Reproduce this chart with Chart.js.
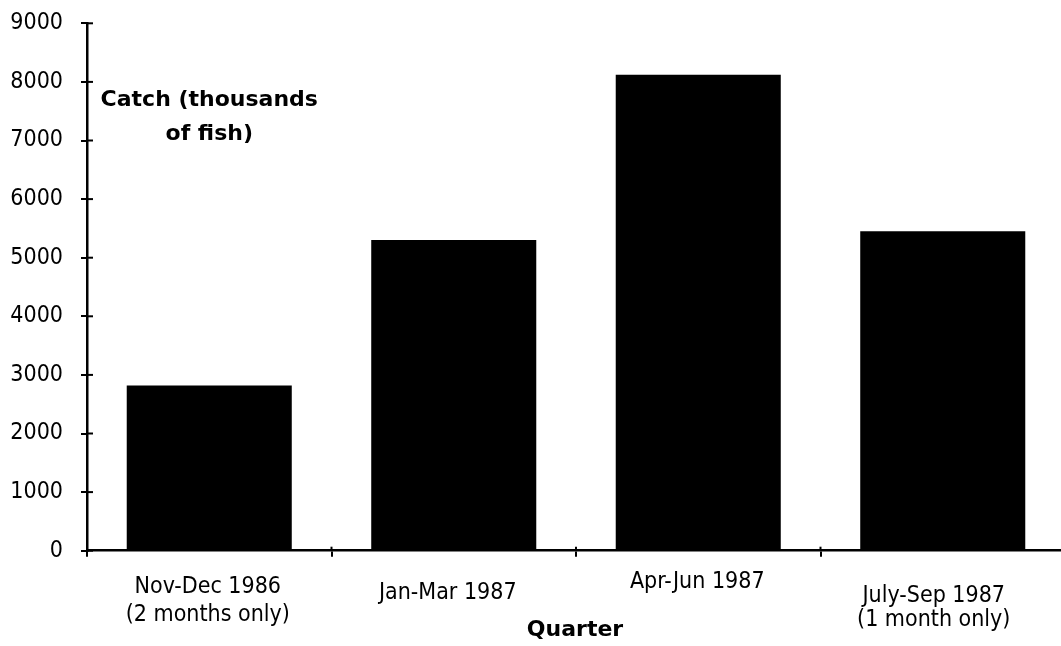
<!DOCTYPE html>
<html>
<head>
<meta charset="utf-8">
<script src="https://cdn.jsdelivr.net/npm/chart.js@4/dist/chart.umd.min.js"></script>
<style>
  html, body { margin: 0; padding: 0; background: #fff; overflow: hidden; }
  canvas { display: block; }
</style>
</head>
<body>
<canvas id="c" width="1070" height="646"></canvas>
<script>
// ---- data ----
const categories = [
  ["Nov-Dec 1986", "(2 months only)"],
  ["Jan-Mar 1987"],
  ["Apr-Jun 1987"],
  ["July-Sep 1987", "(1 month only)"]
];
const catchValues = [2820, 5300, 8120, 5450];
const yTickValues = [0, 1000, 2000, 3000, 4000, 5000, 6000, 7000, 8000, 9000];
const yAxisTitle = ["Catch (thousands", "of fish)"];
const xAxisTitle = "Quarter";

// ---- styles (layout only) ----
const labelFont = "23px 'DejaVu Sans Condensed', 'DejaVu Sans', sans-serif";
const boldFont = "bold 22px 'DejaVu Sans', sans-serif";
const labelDx = [-1.5, -6, -1, -9];
const labelDy = [[36.3, 64.3], [42.3], [31.3], [45.3, 69.8]];

const decor = {
  id: 'decor',
  afterDraw(chart) {
    const ctx = chart.ctx;
    const a = chart.chartArea;
    const xs = chart.scales.x, ys = chart.scales.y;
    ctx.save();
    ctx.strokeStyle = '#000';
    ctx.lineWidth = 2;
    // inner halves of y tick marks
    yTickValues.forEach(v => {
      const y = ys.getPixelForValue(v);
      ctx.beginPath(); ctx.moveTo(a.left, y); ctx.lineTo(a.left + 6, y); ctx.stroke();
    });
    // inner halves of x tick marks (category boundaries)
    for (let i = 1; i < chart.data.labels.length; i++) {
      const x = (xs.getPixelForValue(i - 1) + xs.getPixelForValue(i)) / 2;
      ctx.beginPath(); ctx.moveTo(x, a.bottom); ctx.lineTo(x, a.bottom - 4); ctx.stroke();
    }
    // category labels
    ctx.fillStyle = '#000';
    ctx.font = labelFont;
    ctx.textAlign = 'center';
    ctx.textBaseline = 'middle';
    chart.data.labels.forEach((lines, i) => {
      const x = xs.getPixelForValue(i) + labelDx[i];
      lines.forEach((t, j) => ctx.fillText(t, x, a.bottom + labelDy[i][j]));
    });
    // axis titles
    ctx.font = boldFont;
    const tx = xs.getPixelForValue(0);
    ctx.fillText(yAxisTitle[0], tx, 100);
    ctx.fillText(yAxisTitle[1], tx, 134);
    ctx.font = "bold 22px 'DejaVu Sans', sans-serif";
    ctx.fillText(xAxisTitle, (a.left + a.right) / 2 - 1, a.bottom + 80);
    ctx.restore();
  }
};

new Chart(document.getElementById('c'), {
  type: 'bar',
  data: {
    labels: categories,
    datasets: [{
      data: catchValues,
      backgroundColor: '#000',
      borderWidth: 0,
      barPercentage: 0.675,
      categoryPercentage: 1.0
    }]
  },
  options: {
    responsive: false,
    animation: false,
    events: [],
    layout: { padding: { left: 0, right: 5, top: 23.3, bottom: 0 } },
    plugins: { legend: { display: false }, tooltip: { enabled: false } },
    scales: {
      x: {
        grid: { display: true, drawOnChartArea: false, drawTicks: true, tickLength: 6, color: '#000', lineWidth: 2, offset: true },
        border: { display: true, color: '#000', width: 2.5 },
        ticks: { display: false },
        afterFit(scale) { scale.height = 646 - 550.7; scale.paddingLeft = 0; scale.paddingRight = 0; }
      },
      y: {
        min: 0, max: 9000,
        afterBuildTicks(scale) { scale.ticks = yTickValues.map(v => ({ value: v })); },
        grid: { display: true, drawOnChartArea: false, drawTicks: true, tickLength: 6, color: '#000', lineWidth: 2 },
        border: { display: true, color: '#000', width: 2.5 },
        ticks: {
          color: '#000',
          padding: 18,
          font: { family: "'DejaVu Sans Condensed', 'DejaVu Sans', sans-serif", size: 23 },
          callback: v => String(v)
        },
        afterFit(scale) { scale.width = 87; scale.paddingTop = 0; scale.paddingBottom = 0; }
      }
    }
  },
  plugins: [decor]
});
</script>
</body>
</html>
